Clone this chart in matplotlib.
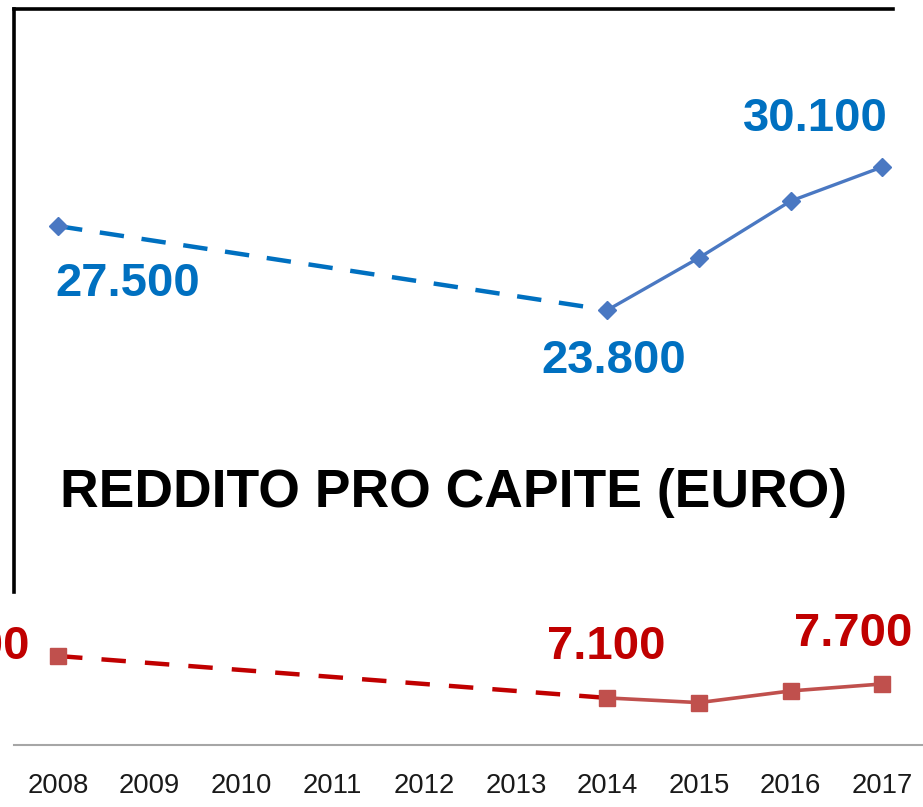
import matplotlib.pyplot as plt

# data (thousands of euro)
years = [2008, 2009, 2010, 2011, 2012, 2013, 2014, 2015, 2016, 2017]
blue_years = [2008, 2014, 2015, 2016, 2017]
blue_vals = [27.5, 23.8, 26.1, 28.6, 30.1]
red_years = [2008, 2014, 2015, 2016, 2017]
red_vals = [8.9, 7.1, 6.9, 7.4, 7.7]
blue_labels = {2008: '27.500', 2014: '23.800', 2017: '30.100'}
red_labels = {2008: '8.900', 2014: '7.100', 2017: '7.700'}

plt.rcParams['font.family'] = ['Liberation Sans', 'DejaVu Sans']

W, H = 923, 807
fig = plt.figure(figsize=(W / 100, H / 100), dpi=100)

# frame (top and left border)
frame = fig.add_axes([14 / W, 1 - 592 / H, (893 - 14) / W, (592 - 9) / H])
frame.set_xticks([])
frame.set_yticks([])
frame.patch.set_alpha(0)
for s in ['right', 'bottom']:
    frame.spines[s].set_visible(False)
for s in ['top', 'left']:
    frame.spines[s].set_linewidth(2.6)
    frame.spines[s].set_color('black')

pos = [14 / W, 62 / H, 909 / W, 745 / H]
ax = fig.add_axes(pos)
ax2 = fig.add_axes(pos, sharex=ax)
ax.patch.set_alpha(0)
ax2.patch.set_alpha(0)
ax2.axis('off')

ax.set_xlim(2007.519, 2017.447)
ax.set_ylim(4.64, 37.46)
ax2.set_ylim(5.08, 37.06)

for s in ['top', 'right', 'left']:
    ax.spines[s].set_visible(False)
ax.spines['bottom'].set_color('#a6a6a6')
ax.spines['bottom'].set_linewidth(1.5)
ax.set_yticks([])
ax.set_xticks(years)
ax.set_xticklabels([str(y) for y in years], fontsize=19.8, color='#1a1a1a')
ax.tick_params(axis='x', length=0, pad=20)

# blue series: dashed gap 2008-2014, solid afterwards
ax.plot(blue_years[:2], blue_vals[:2], color='#0070c0', lw=3.2,
        dashes=(5.5, 4.0), zorder=2)
ax.plot(blue_years[1:], blue_vals[1:], color='#4a78c2', lw=2.4, zorder=2)
ax.plot(blue_years, blue_vals, ls='none', marker='D', ms=9.5,
        color='#4a78c2', zorder=3)

# red series
ax2.plot(red_years[:2], red_vals[:2], color='#c00000', lw=3.2,
         dashes=(5.5, 4.3), zorder=2)
ax2.plot(red_years[1:], red_vals[1:], color='#c0504d', lw=2.6, zorder=2)
ax2.plot(red_years, red_vals, ls='none', marker='s', ms=12,
         color='#c0504d', zorder=3)

blue_off = {2008: (70, -58), 2014: (6, -51), 2017: (-67, 48)}
for y, v in zip(blue_years, blue_vals):
    if y in blue_labels:
        ax.annotate(blue_labels[y], (y, v), xytext=blue_off[y],
                    textcoords='offset pixels', ha='center', va='center',
                    fontsize=34, fontweight='bold', color='#0070c0')

red_off = {2008: (-87, 9), 2014: (-1, 51), 2017: (-29, 50)}
for y, v in zip(red_years, red_vals):
    if y in red_labels:
        ax2.annotate(red_labels[y], (y, v), xytext=red_off[y],
                     textcoords='offset pixels', ha='center', va='center',
                     fontsize=34, fontweight='bold', color='#c00000',
                     annotation_clip=False)

fig.text(453 / W, 1 - 493 / H, 'REDDITO PRO CAPITE (EURO)', ha='center',
         va='center', fontsize=38.5, fontweight='bold', color='black')

fig.savefig('out.png', dpi=100)
